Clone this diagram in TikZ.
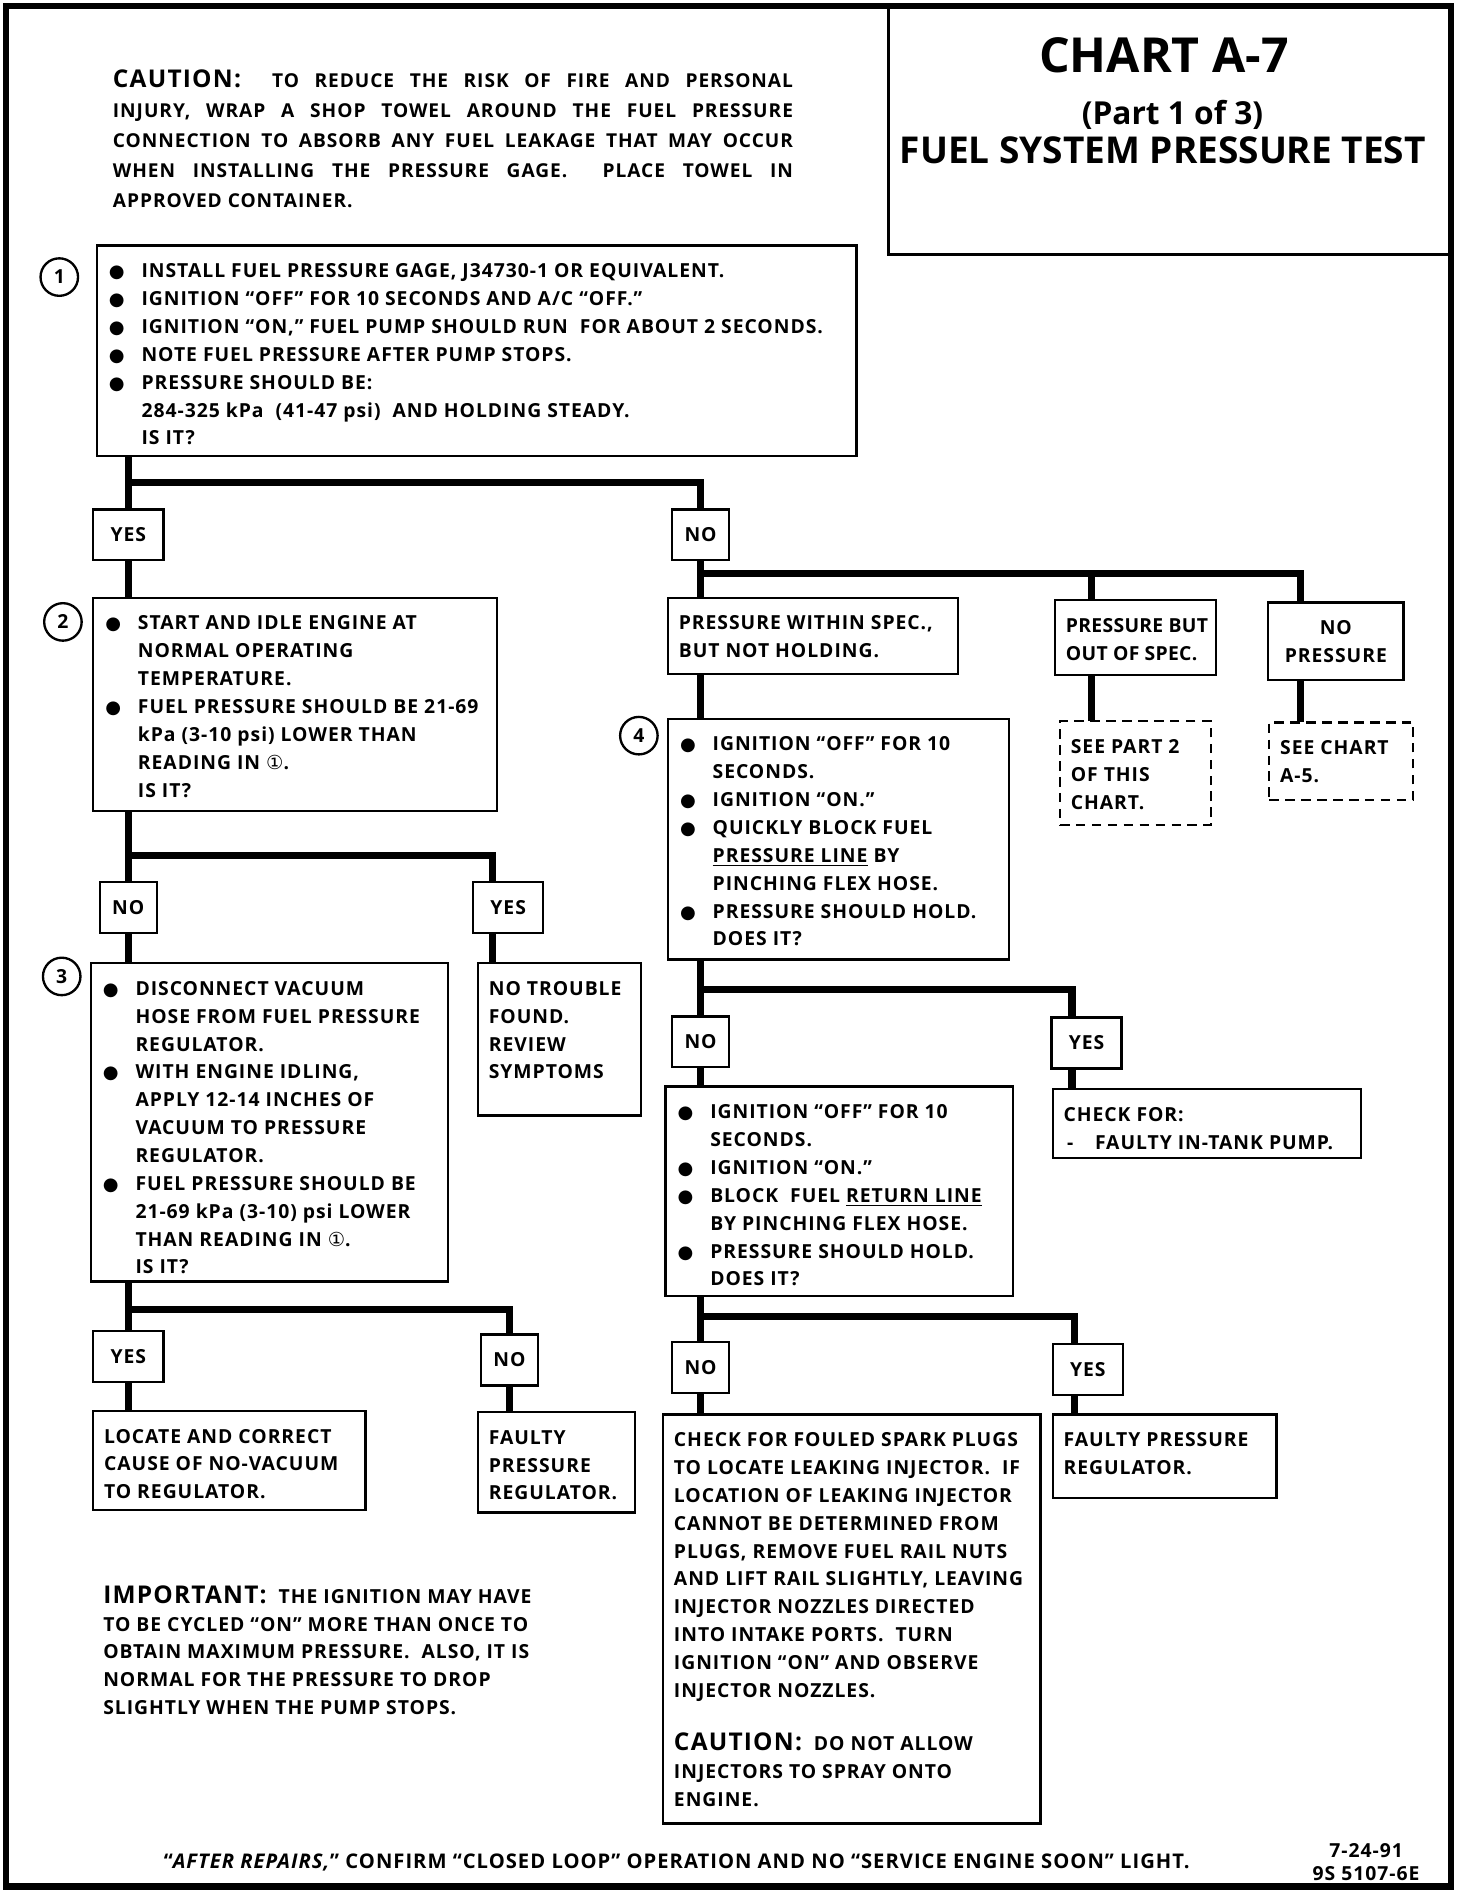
\documentclass[tikz,border=0pt]{standalone}
\usepackage{fontspec}
\setmainfont{Open Sans}[LetterSpace=5]
\newfontfamily\headfont{Open Sans}
\newfontfamily\symfont{DejaVu Sans}

\newlength\px
\setlength\px{0.02cm}
\newcommand\bodyfont{\fontsize{9.1}{13.1}\selectfont\bfseries}
\newcommand\bigword[1]{{\fontsize{11.5}{13.1}\selectfont #1}}
\newcommand\cone{{\symfont\mdseries ①}}
\newcommand\bulmark{{\symfont\fontsize{8.5}{13}\selectfont ●}}
\newcommand\bi{\par\hangindent=28\px\hangafter=1\noindent\makebox[28\px][l]{\hspace{1\px}\bulmark}}
% box text: width, height (in px of the chart), lines
\newcommand\bx[3]{\parbox[c][#2\px][t]{#1\px}{\bodyfont\raggedright
  \leftskip=9\px\rightskip=0pt plus 1fil minus 200\px
  \let\\\newline\parindent=0pt\everypar{\strut}\vspace*{6pt}#3}}
\newcommand\txt[2]{\parbox[t]{#1\px}{\bodyfont\raggedright
  \rightskip=0pt plus 1fil minus 200\px\let\\\newline\parindent=0pt\everypar{\strut}#2}}

\begin{document}
\begin{tikzpicture}[x=0.02cm,y=-0.02cm,
    blk/.style={draw,line width=1.1pt,inner sep=0pt,outer sep=0pt,anchor=north west},
    refer/.style={blk,dash pattern=on 4.5pt off 3pt},
    ans/.style={draw,line width=1.1pt,inner sep=0pt,outer sep=0pt,minimum height=0.84cm,font=\bodyfont},
    yesbox/.style={ans,minimum width=1.16cm},
    nobox/.style={ans,minimum width=0.94cm},
    stepno/.style={circle,draw,line width=1.1pt,minimum size=0.62cm,inner sep=0pt,font=\bodyfont},
    flow/.style={line width=3.4pt},
    frame/.style={line width=3pt}]

\useasboundingbox (0,0) rectangle (1216.5,1567);
\draw[frame] (5,5) rectangle (1199,1559);

% heading
\node[draw,line width=1.3pt,inner sep=0pt,anchor=north west,minimum width=9.32cm,minimum height=4.08cm] (hdr) at (733,5) {};
\node[anchor=base] (title) at (962,60) {\headfont\bfseries\fontsize{22.7}{24}\selectfont CHART A-7};
\node[anchor=base] (part) at (969,103) {\headfont\bfseries\fontsize{14.9}{16}\selectfont (Part 1 of 3)};
\node[anchor=base] (test) at (961,135) {\headfont\bfseries\fontsize{17.4}{19}\selectfont FUEL SYSTEM PRESSURE TEST};

\node[anchor=base west,inner sep=0pt] (caution) at (93,72) {\parbox[t]{562\px}{\fontsize{9}{14.2}\selectfont\bfseries\parindent=0pt
  \bigword{CAUTION:}\ \ TO REDUCE THE RISK OF FIRE AND PERSONAL\linebreak
  INJURY, WRAP A SHOP TOWEL AROUND THE FUEL PRESSURE\linebreak
  CONNECTION TO ABSORB ANY FUEL LEAKAGE THAT MAY OCCUR\linebreak
  WHEN INSTALLING THE PRESSURE GAGE.\ \ PLACE TOWEL IN\linebreak
  APPROVED CONTAINER.}};

% step 1
\node[stepno] (c1) at (49,229) {1};
\node[blk] (b1) at (80,203) {\bx{628}{174}{%
  \bi INSTALL FUEL PRESSURE GAGE, J34730-1 OR EQUIVALENT.
  \bi IGNITION “OFF” FOR 10 SECONDS AND A/C “OFF.”
  \bi IGNITION “ON,” FUEL PUMP SHOULD RUN\ \ FOR ABOUT 2 SECONDS.
  \bi NOTE FUEL PRESSURE AFTER PUMP STOPS.
  \bi PRESSURE SHOULD BE:\\284-325 kPa\ \ (41-47 psi)\ \ AND HOLDING STEADY.\\IS IT?}};
\node[yesbox] (yes1) at (106,442) {YES};
\node[nobox] (no1) at (579,442) {NO};

% step 2
\node[stepno] (c2) at (52,514) {2};
\node[blk] (b2) at (77,494) {\bx{334}{176}{%
  \bi START AND IDLE ENGINE AT\\NORMAL OPERATING\\TEMPERATURE.
  \bi FUEL PRESSURE SHOULD BE 21-69\\kPa (3-10 psi) LOWER THAN\\READING IN \cone.\\IS IT?}};
\node[nobox] (no2) at (106,750) {NO};
\node[yesbox] (yes2) at (420,750) {YES};
\node[blk] (notrb) at (395,796) {\bx{135}{126}{NO TROUBLE\\FOUND.\\REVIEW\\SYMPTOMS}};

% step 3
\node[stepno] (c3) at (51,807) {3};
\node[blk] (b3) at (75,796) {\bx{295}{263}{%
  \bi DISCONNECT VACUUM\\HOSE FROM FUEL PRESSURE\\REGULATOR.
  \bi WITH ENGINE IDLING,\\APPLY 12-14 INCHES OF\\VACUUM TO PRESSURE\\REGULATOR.
  \bi FUEL PRESSURE SHOULD BE\\21-69 kPa (3-10) psi LOWER\\THAN READING IN \cone.\\IS IT?}};
\node[yesbox] (yes3) at (106,1121) {YES};
\node[nobox] (no3) at (421,1124) {NO};
\node[blk] (locate) at (77,1166) {\bx{225}{82}{LOCATE AND CORRECT\\CAUSE OF NO-VACUUM\\TO REGULATOR.}};
\node[blk] (faulty1) at (395,1167) {\bx{130}{83}{FAULTY\\PRESSURE\\REGULATOR.}};

\node[anchor=base west,inner sep=0pt] (important) at (85,1325) {\txt{420}{\bigword{IMPORTANT:}\ \ THE IGNITION MAY HAVE\\
  TO BE CYCLED “ON” MORE THAN ONCE TO\\OBTAIN MAXIMUM PRESSURE.\ \ ALSO, IT IS\\
  NORMAL FOR THE PRESSURE TO DROP\\SLIGHTLY WHEN THE PUMP STOPS.}};

% pressure cases
\node[blk] (within) at (552,494) {\bx{240}{63}{PRESSURE WITHIN SPEC.,\\BUT NOT HOLDING.}};
\node[blk] (outspec) at (872,496) {\bx{133}{62}{\addfontfeature{LetterSpace=1.5}PRESSURE BUT\\OUT OF SPEC.}};
\node[blk] (nopress) at (1048,498) {\bx{112}{64}{\centering NO\par PRESSURE}};
\node[refer] (seep2) at (876,596) {\bx{125}{86}{SEE PART 2\\OF THIS\\CHART.}};
\node[refer] (seea5) at (1049,597) {\bx{119}{64}{SEE CHART\\A-5.}};

% step 4
\node[stepno] (c4) at (528,608) {4};
\node[blk] (b4) at (552,594) {\bx{282}{199}{%
  \bi IGNITION “OFF” FOR 10\\SECONDS.
  \bi IGNITION “ON.”
  \bi QUICKLY BLOCK FUEL\\\underline{PRESSURE LINE} BY\\PINCHING FLEX HOSE.
  \bi PRESSURE SHOULD HOLD.\\DOES IT?}};
\node[nobox] (no4) at (579,861) {NO};
\node[yesbox] (yes4) at (898,862) {YES};
\node[blk] (check) at (870,900) {\bx{255}{57}{CHECK FOR:\\\hspace*{3\px}\makebox[23\px][l]{-}FAULTY IN-TANK PUMP.}};

\node[blk] (b5) at (550,898) {\bx{287}{173}{%
  \bi IGNITION “OFF” FOR 10\\SECONDS.
  \bi IGNITION “ON.”
  \bi BLOCK\ \ FUEL \underline{RETURN LINE}\\BY PINCHING FLEX HOSE.
  \bi PRESSURE SHOULD HOLD.\\DOES IT?}};
\node[nobox] (no5) at (579,1130) {NO};
\node[yesbox] (yes5) at (899,1132) {YES};
\node[blk] (faulty2) at (870,1169) {\bx{185}{69}{FAULTY PRESSURE\\REGULATOR.}};
\node[blk] (plugs) at (548,1169) {\bx{312}{338}{CHECK FOR FOULED SPARK PLUGS\\
  TO LOCATE LEAKING INJECTOR.\ \ IF\\LOCATION OF LEAKING INJECTOR\\CANNOT BE DETERMINED FROM\\
  PLUGS, REMOVE FUEL RAIL NUTS\\AND LIFT RAIL SLIGHTLY, LEAVING\\INJECTOR NOZZLES DIRECTED\\
  INTO INTAKE PORTS.\ \ TURN\\IGNITION “ON” AND OBSERVE\\INJECTOR NOZZLES.\par\vspace{21\px}
  \bigword{CAUTION:}\ \ DO NOT ALLOW\\INJECTORS TO SPRAY ONTO\\ENGINE.}};

\node[anchor=base west,inner sep=0pt,font=\fontsize{9.5}{13.1}\selectfont\bfseries] (after) at (135,1544)
  {“\textit{AFTER REPAIRS,}” CONFIRM “CLOSED LOOP” OPERATION AND NO “SERVICE ENGINE SOON” LIGHT.};
\node[anchor=base,inner sep=0pt] (date) at (1129,1535)
  {\parbox[t]{120\px}{\centering\fontsize{9.1}{10.8}\selectfont\bfseries 7-24-91\\9S 5107-6E}};

% connectors
\coordinate (s1) at (0,399);
\draw[flow] (b1.south -| yes1) -- (yes1.north);
\draw[flow] (yes1.north |- s1) -| (no1.north);
\draw[flow] (yes1.south) -- (yes1.south |- b2.north);
\draw[flow] (no1.south) -- (no1.south |- within.north);

\coordinate (k1) at (902,474);
\coordinate (k2) at (1075,474);
\draw[flow] (no1.south |- k1) -- (k2) -- (k2 |- nopress.north);
\draw[flow] (k1) -- (k1 |- outspec.north);
\draw[flow] (k1 |- outspec.south) -- (k1 |- seep2.north);
\draw[flow] (k2 |- nopress.south) -- (k2 |- seea5.north);
\draw[flow] (within.south -| no1) -- (b4.north -| no1);

\coordinate (k3) at (407,707);
\draw[flow] (b2.south -| no2) -- (no2.north);
\draw[flow] (no2.north |- k3) -- (k3) -- (k3 |- yes2.north);
\draw[flow] (no2.south) -- (no2.south |- b3.north);
\draw[flow] (k3 |- yes2.south) -- (k3 |- notrb.north);

\coordinate (s3) at (0,1082);
\draw[flow] (b3.south -| yes3) -- (yes3.north);
\draw[flow] (yes3.north |- s3) -| (no3.north);
\draw[flow] (yes3.south) -- (yes3.south |- locate.north);
\draw[flow] (no3.south) -- (no3.south |- faulty1.north);

\coordinate (k4) at (886,818);
\draw[flow] (b4.south -| no4) -- (no4.north);
\draw[flow] (no4.north |- k4) -- (k4) -- (k4 |- yes4.north);
\draw[flow] (no4.south) -- (no4.south |- b5.north);
\draw[flow] (k4 |- yes4.south) -- (k4 |- check.north);

\coordinate (k5) at (888,1088);
\draw[flow] (b5.south -| no5) -- (no5.north);
\draw[flow] (no5.north |- k5) -- (k5) -- (k5 |- yes5.north);
\draw[flow] (no5.south) -- (no5.south |- plugs.north);
\draw[flow] (k5 |- yes5.south) -- (k5 |- faulty2.north);
\end{tikzpicture}
\end{document}
